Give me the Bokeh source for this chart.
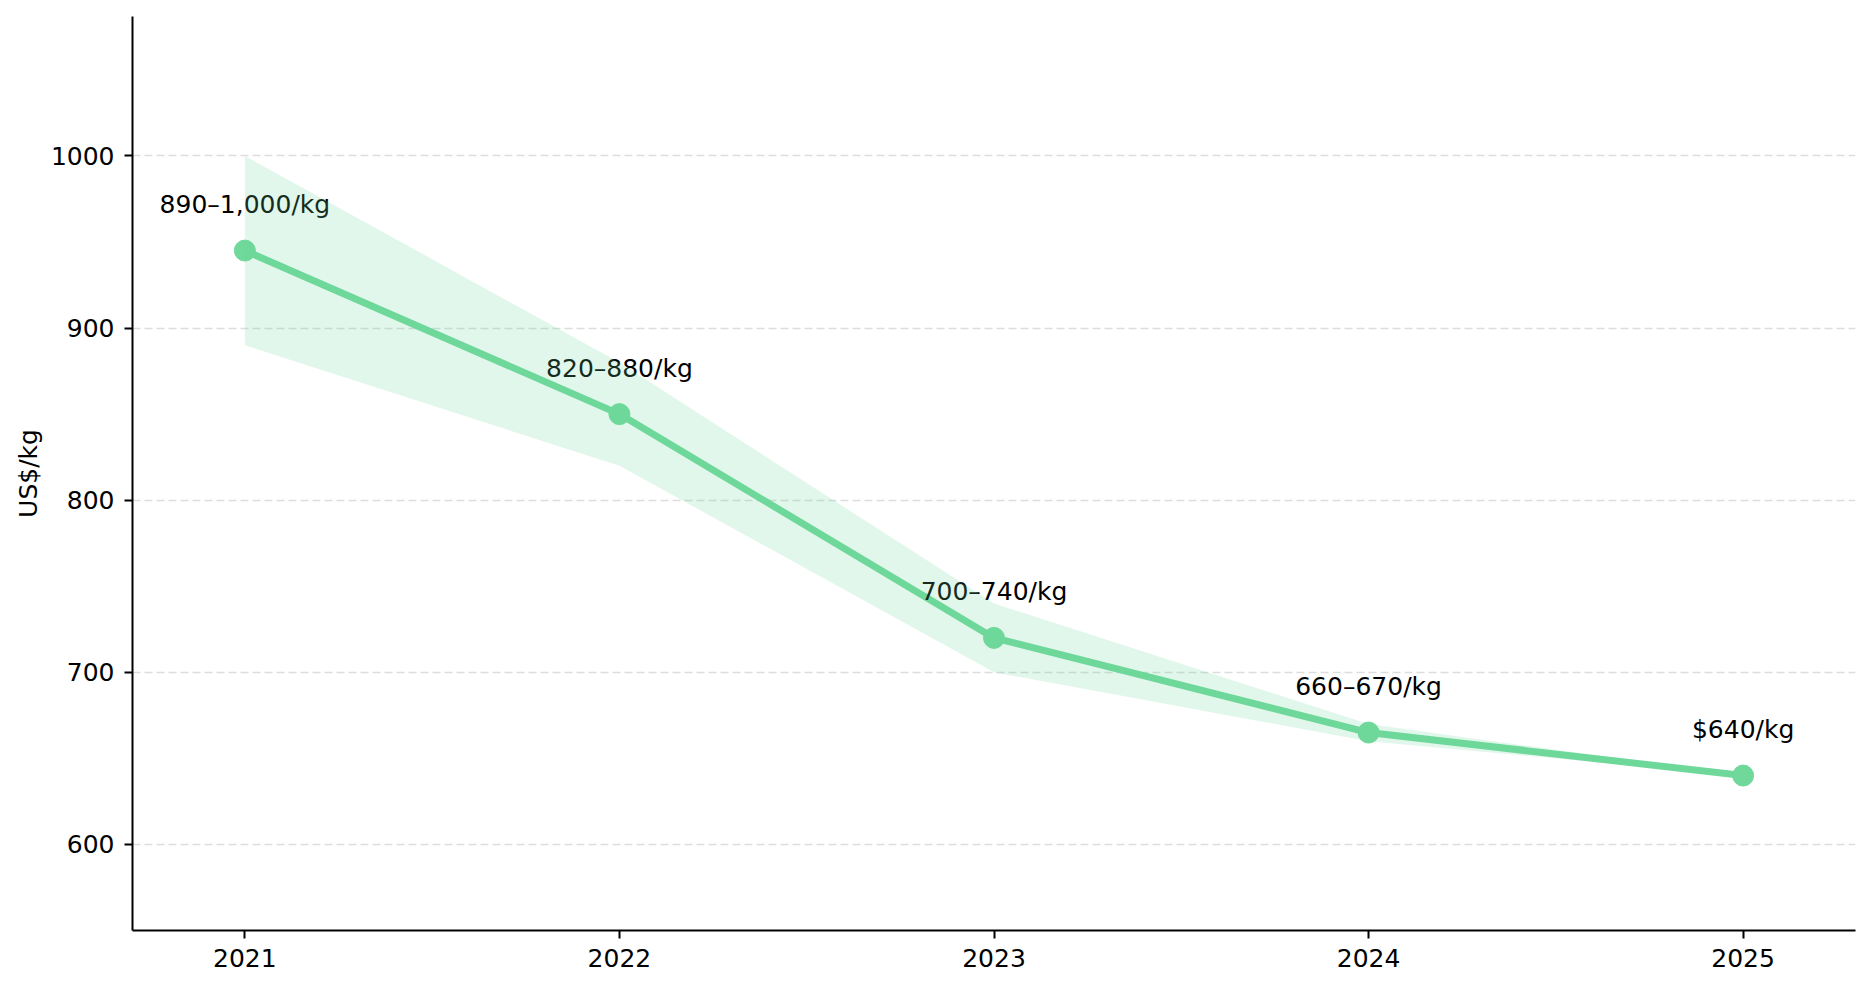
from bokeh.plotting import figure
from bokeh.models import ColumnDataSource, FixedTicker, Range1d, Band
from bokeh.embed import file_html
from bokeh.resources import INLINE
from bokeh.core.properties import value

years = [2021, 2022, 2023, 2024, 2025]
mid_price = [945, 850, 720, 665, 640]
low_price = [890, 820, 700, 660, 640]
high_price = [1000, 880, 740, 670, 640]
labels = ["890\u20131,000/kg", "820\u2013880/kg", "700\u2013740/kg", "660\u2013670/kg", "$640/kg"]
y_ticks = [600, 700, 800, 900, 1000]

GREEN = "#6fd89a"
FONT = "DejaVu Sans"
FS = "25px"

src = ColumnDataSource(dict(x=years, y=mid_price, lo=low_price, hi=high_price, lab=labels))

p = figure(width=1863, height=981, output_backend="svg", toolbar_location=None,
           x_range=Range1d(2020.7, 2025.3), y_range=Range1d(550, 1081),
           min_border_left=132, min_border_right=8, min_border_top=16, min_border_bottom=51)
p.outline_line_color = None
p.background_fill_color = "white"

band = Band(base="x", lower="lo", upper="hi", source=src, fill_color=GREEN, fill_alpha=0.2,
            line_color=None)
p.add_layout(band)

p.line("x", "y", source=src, line_color=GREEN, line_width=7)
p.scatter("x", "y", source=src, size=21, fill_color=GREEN, line_color=GREEN)
p.text("x", "y", text="lab", source=src, text_align="center", text_baseline="alphabetic",
       y_offset=-46, text_font=value(FONT), text_font_size=FS, text_color="#000000")

p.xgrid.grid_line_color = None
p.ygrid.grid_line_color = "#dddddd"
p.ygrid.grid_line_dash = "8 4"
p.ygrid.grid_line_width = 1.3
p.ygrid.ticker = FixedTicker(ticks=y_ticks)

p.xaxis.ticker = FixedTicker(ticks=years)
p.yaxis.ticker = FixedTicker(ticks=y_ticks)
p.yaxis.axis_label = "US$/kg"

for ax in (p.xaxis, p.yaxis):
    ax.axis_line_color = "black"
    ax.axis_line_width = 2
    ax.major_tick_line_color = "black"
    ax.major_tick_line_width = 2
    ax.major_tick_out = 8
    ax.major_tick_in = 0
    ax.minor_tick_line_color = None
    ax.major_label_text_font = FONT
    ax.major_label_text_font_size = FS
    ax.major_label_text_color = "black"
    ax.axis_label_text_font = FONT
    ax.axis_label_text_font_size = FS
    ax.axis_label_text_font_style = "normal"
    ax.axis_label_text_color = "black"

p.yaxis.major_label_standoff = 10
p.yaxis.axis_label_standoff = 5
p.xaxis.major_label_standoff = 10

open("out.html", "w").write(file_html(p, INLINE))
